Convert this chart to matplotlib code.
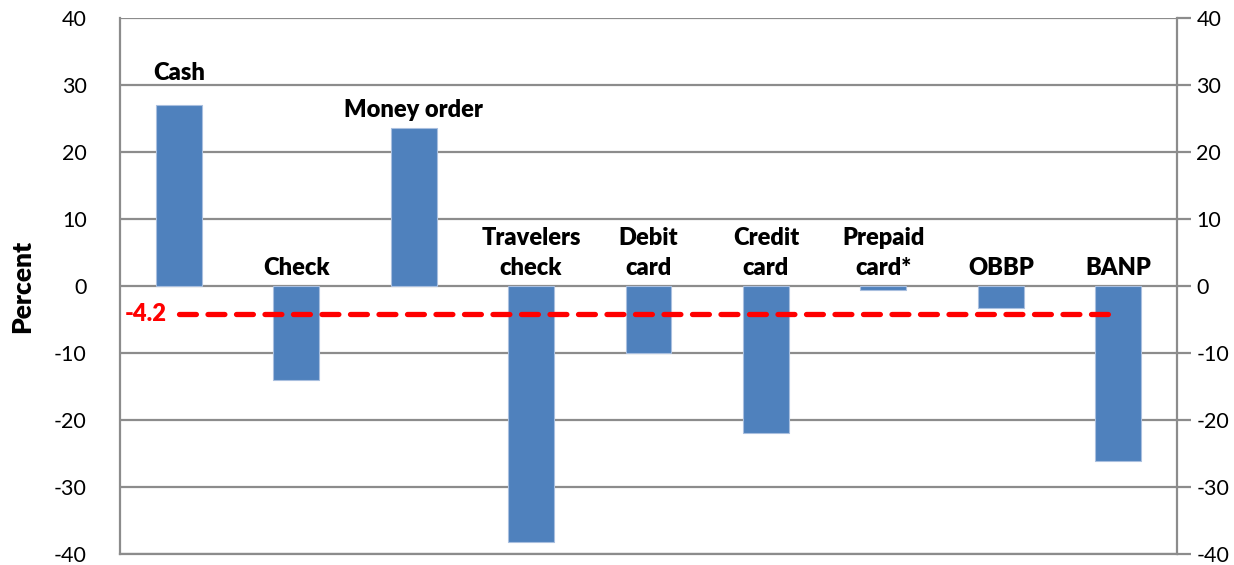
import numpy as np
import matplotlib
matplotlib.use("Agg")
from matplotlib import pyplot as plt

plt.rcParams['font.family'] = ['Lato', 'DejaVu Sans']
plt.rcParams['axes.unicode_minus'] = False

# change by payment instrument, percent
labels = ['Cash', 'Check', 'Money order', 'Travelers\ncheck', 'Debit\ncard',
          'Credit\ncard', 'Prepaid\ncard*', 'OBBP', 'BANP']
values = [27.0, -14.0, 23.6, -38.2, -10.0, -21.9, -0.6, -3.3, -26.1]
average = -4.2
yticks = [-40, -30, -20, -10, 0, 10, 20, 30, 40]

grid_col = '#8c8c8c'
bar_col = '#4f81bd'

fig = plt.figure(figsize=(12.34, 5.65), dpi=100)
ax = fig.add_axes([120 / 1234, 11 / 565, 1057 / 1234, 536 / 565])

x = np.arange(len(values))
ax.bar(x, values, width=0.39, color=bar_col, edgecolor='#a9bfdf', linewidth=0.8, zorder=3)

# category names sit just above each bar (or above zero for negative bars)
for xi, v, lab in zip(x, values, labels):
    gap = 3.7 if lab == 'Cash' else 1.6
    ax.text(xi, max(v, 0) + gap, lab, ha='center', va='baseline',
            fontsize=17, fontweight='heavy', linespacing=1.45, zorder=4)

# overall average
ax.plot([x[0], x[-1]], [average, average], color='#ff0000', lw=3.8,
        dashes=(3.2, 2.2), dash_capstyle='round', zorder=5)
ax.text(-0.1, average, f'{average}', color='#ff0000', fontsize=17,
        fontweight='heavy', ha='right', va='center')

ax.set_xlim(-0.5, len(values) - 0.5)
ax.set_ylim(-40, 40)
ax.set_yticks(yticks)
ax.set_xticks([])
ax.yaxis.grid(True, color=grid_col, lw=1.6, zorder=0)
ax.set_axisbelow(True)
for s in ['left', 'right', 'bottom']:
    ax.spines[s].set_color(grid_col)
    ax.spines[s].set_linewidth(1.6)
ax.spines['top'].set_visible(False)
ax.tick_params(axis='y', length=0, pad=24, labelsize=15.5, colors='black')

ax2 = ax.twinx()
ax2.set_ylim(-40, 40)
ax2.set_yticks(yticks)
ax2.tick_params(axis='y', length=10, width=1.6, color=grid_col, pad=4, labelsize=15.5)
for s in ax2.spines.values():
    s.set_visible(False)

ax.set_ylabel('Percent', fontsize=19, fontweight='heavy', labelpad=14)

fig.savefig('out.png', dpi=100)
